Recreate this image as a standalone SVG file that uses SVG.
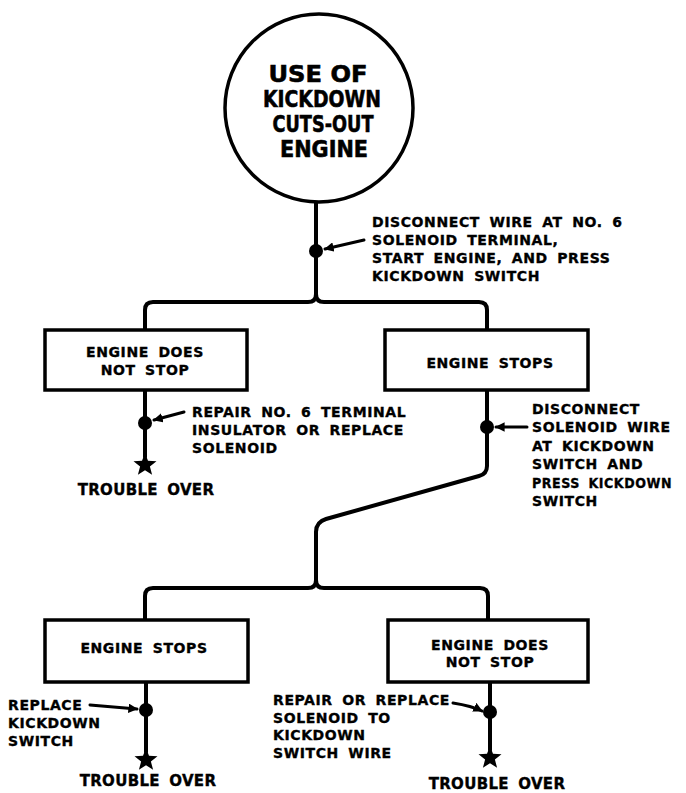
<svg xmlns="http://www.w3.org/2000/svg" width="686" height="793" viewBox="0 0 686 793">
<style>
.bg{fill:#fff}
.ln{fill:none;stroke:#000;stroke-width:4;stroke-linecap:round;stroke-linejoin:round}
.box{fill:#fff;stroke:#000;stroke-width:3.5}
.circ{fill:#fff;stroke:#000;stroke-width:3.5}
.dot{fill:#000}
.co{fill:none;stroke:#000;stroke-width:3;stroke-linecap:round}
.t{font-family:"DejaVu Sans","Liberation Sans",sans-serif;font-weight:bold;font-size:14px;fill:#000;stroke:#000;stroke-width:0.35;letter-spacing:0.6px;word-spacing:4px}
.tc{text-anchor:middle}
.big{font-family:"DejaVu Sans","Liberation Sans",sans-serif;font-weight:bold;font-size:23px;fill:#000;stroke:#000;stroke-width:0.6;text-anchor:middle}
.end{font-family:"DejaVu Sans","Liberation Sans",sans-serif;font-weight:bold;font-size:15px;fill:#000;stroke:#000;stroke-width:0.35;text-anchor:middle;word-spacing:4px;letter-spacing:0.3px}
</style>
<defs>
<marker id="ah" viewBox="0 0 10 10" refX="9" refY="5" markerWidth="3.2" markerHeight="3.2" orient="auto" markerUnits="strokeWidth">
<path d="M0,0 L10,5 L0,10 z" fill="#000"/>
</marker>
<path id="star" d="M0,-12 L3,-4.2 L11.5,-3.7 L4.9,1.6 L7.1,9.8 L0,5.2 L-7.1,9.8 L-4.9,1.6 L-11.5,-3.7 L-3,-4.2 Z" fill="#000"/>
</defs>
<rect class="bg" x="0" y="0" width="686" height="793"/>

<g id="connectors">
<path class="ln" d="M316,203 V294 Q316,302 308,302 H153 Q145,302 145,310 V330"/>
<path class="ln" d="M316,294 Q316,302 324,302 H479 Q487,302 487,310 V330"/>
<path class="ln" d="M145,390 V457"/>
<path class="ln" d="M487,390 V466 Q487,474 479,476 L326,519 Q316,522 316,532 V580 Q316,588 308,588 H153 Q145,588 145,596 V620"/>
<path class="ln" d="M316,580 Q316,588 324,588 H480 Q488,588 488,596 V620"/>
<path class="ln" d="M146,682 V752"/>
<path class="ln" d="M490,682 V750"/>
<circle class="dot" cx="316" cy="251" r="7"/>
<circle class="dot" cx="145" cy="423" r="7"/>
<circle class="dot" cx="487" cy="427" r="7"/>
<circle class="dot" cx="146" cy="710" r="7"/>
<circle class="dot" cx="490" cy="712" r="7"/>
<path class="co" d="M364,240 L325,249" marker-end="url(#ah)"/>
<path class="co" d="M184,412 L154,420" marker-end="url(#ah)"/>
<path class="co" d="M527,427 L496,427" marker-end="url(#ah)"/>
<path class="co" d="M90,705 L137,709" marker-end="url(#ah)"/>
<path class="co" d="M453,703 Q472,706 482,711" marker-end="url(#ah)"/>
</g>

<g id="start">
<circle class="circ" cx="319" cy="108" r="94"/>
<text class="big" x="318" y="82" textLength="99" lengthAdjust="spacingAndGlyphs">USE OF</text>
<text class="big" x="322" y="107" textLength="118" lengthAdjust="spacingAndGlyphs">KICKDOWN</text>
<text class="big" x="323" y="132" textLength="101" lengthAdjust="spacingAndGlyphs">CUTS-OUT</text>
<text class="big" x="324" y="157" textLength="88" lengthAdjust="spacingAndGlyphs">ENGINE</text>
</g>

<g id="step1-label">
<text class="t" x="372" y="227">DISCONNECT WIRE AT NO. 6</text>
<text class="t" x="372" y="245">SOLENOID TERMINAL,</text>
<text class="t" x="372" y="263">START ENGINE, AND PRESS</text>
<text class="t" x="372" y="281">KICKDOWN SWITCH</text>
</g>

<g id="box-not-stop-1">
<rect class="box" x="45" y="330" width="202" height="60"/>
<text class="t tc" x="145" y="357">ENGINE DOES</text>
<text class="t tc" x="145" y="375">NOT STOP</text>
</g>

<g id="box-stops-1">
<rect class="box" x="385" y="330" width="203" height="60"/>
<text class="t tc" x="490" y="368">ENGINE STOPS</text>
</g>

<g id="repair-terminal">
<text class="t" x="192" y="417">REPAIR NO. 6 TERMINAL</text>
<text class="t" x="192" y="435">INSULATOR OR REPLACE</text>
<text class="t" x="192" y="453">SOLENOID</text>
</g>

<g id="end-1">
<use href="#star" x="145" y="465"/>
<text class="end" x="146" y="495">TROUBLE OVER</text>
</g>

<g id="step2-label">
<text class="t" x="532" y="414">DISCONNECT</text>
<text class="t" x="532" y="432">SOLENOID WIRE</text>
<text class="t" x="532" y="451">AT KICKDOWN</text>
<text class="t" x="532" y="469">SWITCH AND</text>
<text class="t" x="532" y="488" textLength="140" lengthAdjust="spacingAndGlyphs">PRESS KICKDOWN</text>
<text class="t" x="532" y="506">SWITCH</text>
</g>

<g id="box-stops-2">
<rect class="box" x="45" y="620" width="203" height="62"/>
<text class="t tc" x="144" y="653">ENGINE STOPS</text>
</g>

<g id="box-not-stop-2">
<rect class="box" x="388" y="620" width="200" height="62"/>
<text class="t tc" x="490" y="650">ENGINE DOES</text>
<text class="t tc" x="490" y="667">NOT STOP</text>
</g>

<g id="replace-switch">
<text class="t" x="8" y="710">REPLACE</text>
<text class="t" x="8" y="728">KICKDOWN</text>
<text class="t" x="8" y="746">SWITCH</text>
</g>

<g id="end-2">
<use href="#star" x="146" y="760"/>
<text class="end" x="148" y="786">TROUBLE OVER</text>
</g>

<g id="repair-wire">
<text class="t" x="273" y="705">REPAIR OR REPLACE</text>
<text class="t" x="273" y="723">SOLENOID TO</text>
<text class="t" x="273" y="740">KICKDOWN</text>
<text class="t" x="273" y="758">SWITCH WIRE</text>
</g>

<g id="end-3">
<use href="#star" x="490" y="758"/>
<text class="end" x="497" y="789">TROUBLE OVER</text>
</g>
</svg>
